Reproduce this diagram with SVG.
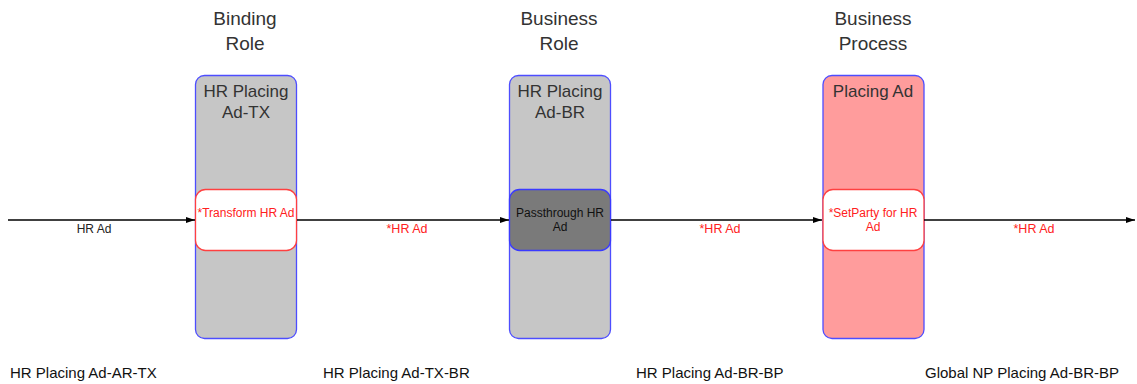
<svg xmlns="http://www.w3.org/2000/svg" width="1137" height="384" viewBox="0 0 1137 384">
<style>
text{font-family:"Liberation Sans",Arial,sans-serif}
.title{font-size:19px;fill:#333;text-anchor:middle}
.lt{font-size:17px;fill:#333;text-anchor:middle}
.lane{fill:#c6c6c6;stroke:#4d4dff;stroke-width:1.3}
.pink{fill:#ff9c9c;stroke:#4d4dff;stroke-width:1.3}
.act{fill:#fff;stroke:#ff4040;stroke-width:1.3}
.dark{fill:#7a7a7a;stroke:#3a3aff;stroke-width:1.3}
.at{font-size:12px;fill:#ff2020;text-anchor:middle}
.dt{font-size:12px;fill:#111;text-anchor:middle}
.conn{stroke:#000;stroke-width:1.3;fill:none}
.cl{font-size:12px;fill:#222;text-anchor:middle}
.clr{font-size:12.5px;fill:#ff2020;text-anchor:middle}
.bl{font-size:15px;fill:#111}
</style>
<defs>
<marker id="ah" markerWidth="10" markerHeight="8" refX="9" refY="4" orient="auto" markerUnits="userSpaceOnUse">
<path d="M0,1 L9,4 L0,7 Z" fill="#000"/>
</marker>
</defs>
<text class="title" x="245" y="25">Binding</text>
<text class="title" x="245" y="50">Role</text>
<text class="title" x="559" y="25">Business</text>
<text class="title" x="559" y="50">Role</text>
<text class="title" x="873" y="25">Business</text>
<text class="title" x="873" y="50">Process</text>
<g id="lane-tx">
<rect class="lane" x="195.5" y="75.5" width="101" height="263" rx="9"/>
<text class="lt" x="246" y="97">HR Placing</text>
<text class="lt" x="246" y="118">Ad-TX</text>
</g>
<g id="lane-br">
<rect class="lane" x="509.5" y="75.5" width="101" height="263" rx="9"/>
<text class="lt" x="560" y="97">HR Placing</text>
<text class="lt" x="560" y="118">Ad-BR</text>
</g>
<g id="lane-bp">
<rect class="pink" x="823" y="75.5" width="101" height="263" rx="9"/>
<text class="lt" x="873" y="97">Placing Ad</text>
</g>
<g id="act-transform">
<rect class="act" x="195.5" y="189.5" width="101" height="61" rx="10"/>
<text class="at" x="246" y="217">*Transform HR Ad</text>
</g>
<g id="act-passthrough">
<rect class="dark" x="509.5" y="189.5" width="101" height="61" rx="10"/>
<text class="dt" x="560" y="217">Passthrough HR</text>
<text class="dt" x="560" y="231">Ad</text>
</g>
<g id="act-setparty">
<rect class="act" x="823" y="189.5" width="101" height="61" rx="10"/>
<text class="at" x="873" y="217">*SetParty for HR</text>
<text class="at" x="873" y="231">Ad</text>
</g>
<g id="connectors">
<line class="conn" x1="8" y1="220" x2="195" y2="220" marker-end="url(#ah)"/>
<line class="conn" x1="297" y1="220" x2="509" y2="220" marker-end="url(#ah)"/>
<line class="conn" x1="611" y1="220" x2="822" y2="220" marker-end="url(#ah)"/>
<line class="conn" x1="924" y1="220" x2="1135" y2="220" marker-end="url(#ah)"/>
<text class="cl" x="94" y="233">HR Ad</text>
<text class="clr" x="407" y="233">*HR Ad</text>
<text class="clr" x="720" y="233">*HR Ad</text>
<text class="clr" x="1034" y="233">*HR Ad</text>
</g>
<text class="bl" x="10" y="378">HR Placing Ad-AR-TX</text>
<text class="bl" x="323" y="378">HR Placing Ad-TX-BR</text>
<text class="bl" x="636" y="378">HR Placing Ad-BR-BP</text>
<text class="bl" x="925" y="378">Global NP Placing Ad-BR-BP</text>
</svg>
